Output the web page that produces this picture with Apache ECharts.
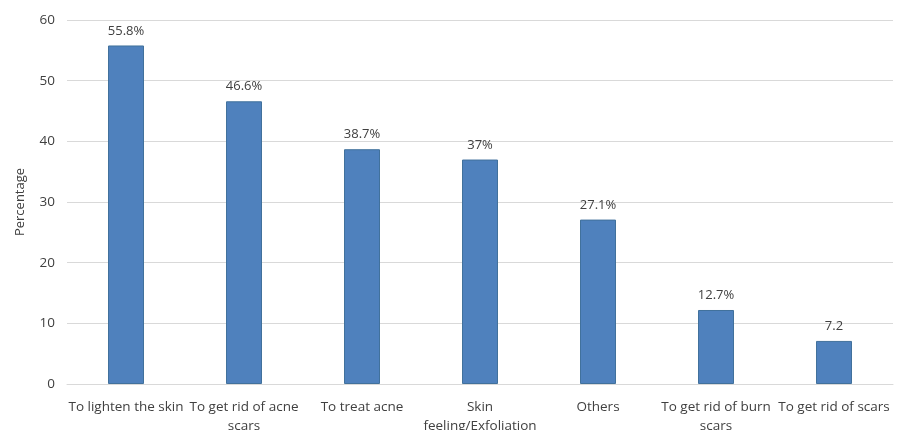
<!DOCTYPE html>
<html>
<head>
<meta charset="utf-8">
<script src="https://cdn.jsdelivr.net/npm/echarts@6/dist/echarts.min.js"></script>
<style>html,body{margin:0;padding:0;background:#fff;}#c{width:897px;height:430px;}</style>
</head>
<body>
<div id="c"></div>
<script>
var categories = ["To lighten the skin", "To get rid of acne\nscars", "To treat acne", "Skin\nfeeling/Exfoliation", "Others", "To get rid of burn\nscars", "To get rid of scars"];
var values = [55.8, 46.6, 38.7, 37, 27.1, 12.2, 7.1];
var labels = ["55.8%", "46.6%", "38.7%", "37%", "27.1%", "12.7%", "7.2"];
var yTicks = [0, 10, 20, 30, 40, 50, 60];

var font = "'Open Sans', 'Liberation Sans', sans-serif";
var chart = echarts.init(document.getElementById('c'), null, {renderer: 'canvas'});
chart.setOption({
  animation: false,
  grid: {left: 67, right: 4, top: 20, bottom: 46, containLabel: false, outerBoundsMode: 'none'},
  xAxis: {
    type: 'category',
    data: categories,
    axisLine: {show: true, lineStyle: {color: '#d9d9d9'}},
    axisTick: {show: false},
    axisLabel: {color: '#404040', fontSize: 13.5, fontFamily: font, margin: 14, lineHeight: 19, interval: 0}
  },
  yAxis: {
    type: 'value',
    min: yTicks[0], max: yTicks[yTicks.length - 1], interval: 10,
    name: 'Percentage', nameLocation: 'middle', nameGap: 40, nameRotate: 90,
    nameTextStyle: {color: '#404040', fontSize: 13, fontFamily: font},
    axisLine: {show: false}, axisTick: {show: false},
    axisLabel: {color: '#404040', fontSize: 13.5, fontFamily: font, margin: 12},
    splitLine: {lineStyle: {color: '#d9d9d9', width: 1}}
  },
  series: [{
    type: 'bar',
    data: values,
    barWidth: 36,
    itemStyle: {color: '#4F81BD', borderColor: '#41719C', borderWidth: 1},
    label: {
      show: true, position: 'top', distance: 8, color: '#404040', fontSize: 13, fontFamily: font,
      formatter: function (p) { return labels[p.dataIndex]; }
    }
  }]
});
</script>
</body>
</html>
